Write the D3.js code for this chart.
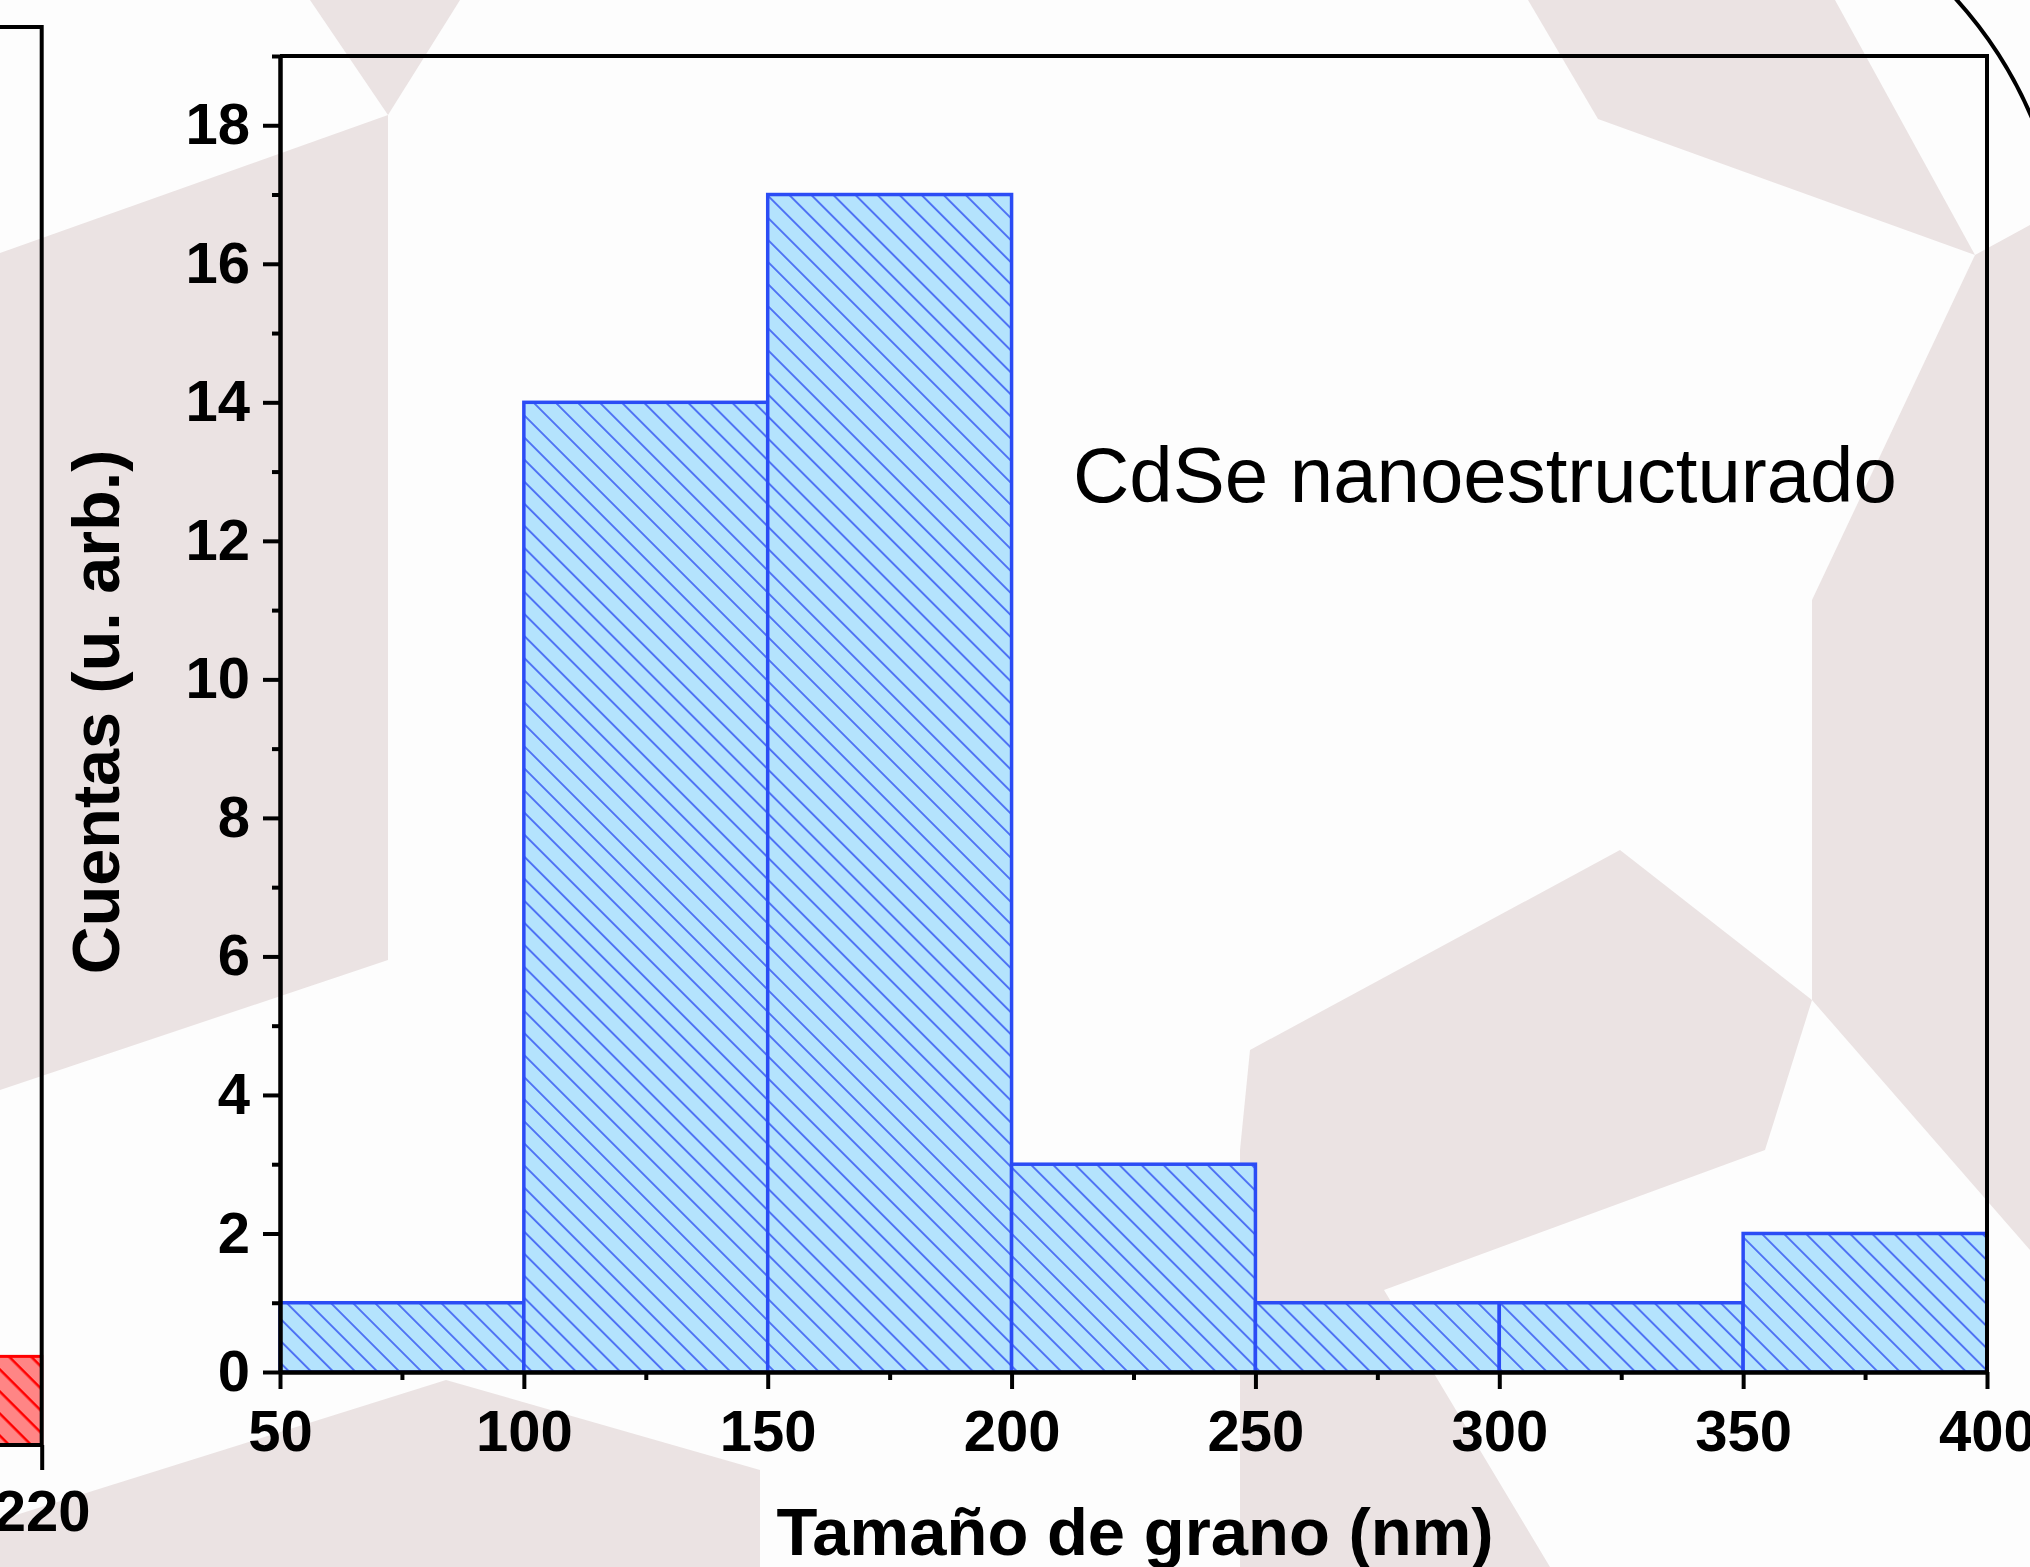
<!DOCTYPE html>
<html>
<head>
<meta charset="utf-8">
<script src="https://cdn.jsdelivr.net/npm/d3@7"></script>
<style>
  html, body { margin: 0; padding: 0; background: #fdfdfd; }
  svg { display: block; }
  text { font-family: "Liberation Sans", Arial, sans-serif; }
</style>
</head>
<body>
<svg id="chart"></svg>
<script>
// histogram bins (nm) and counts
var binStart = [50, 100, 150, 200, 250, 300, 350];
var binEnd = [100, 150, 200, 250, 300, 350, 400];
var counts = [1, 14, 17, 3, 1, 1, 2];

var xTicks = [50, 100, 150, 200, 250, 300, 350, 400];
var xMinor = [75, 125, 175, 225, 275, 325, 375];
var yTicks = [0, 2, 4, 6, 8, 10, 12, 14, 16, 18];
var yMinor = [1, 3, 5, 7, 9, 11, 13, 15, 17, 19];

// the cut-off neighbour panel on the left
var leftStart = [200];
var leftEnd = [220];
var leftCounts = [1];
var leftTicks = [220];

var width = 2030, height = 1567;

var svg = d3.select("#chart")
  .attr("width", width)
  .attr("height", height);

// faint cube watermark behind everything
var bgPolys = [
  [[310,0],[460,0],[388,115]],
  [[0,253],[388,115],[388,960],[0,1090]],
  [[1528,0],[1835,0],[1975,255],[1598,119]],
  [[1975,255],[2030,225],[2030,1250],[1812,1000],[1812,600]],
  [[0,1520],[446,1380],[760,1470],[760,1567],[0,1567]],
  [[1240,1150],[1765,1150],[1384,1290],[1550,1567],[1240,1567]],
  [[1250,1050],[1620,850],[1812,1000],[1765,1150],[1240,1150]]
];
svg.append("g").selectAll("polygon")
  .data(bgPolys)
  .enter()
  .append("polygon")
  .attr("points", function (d) { return d.join(" "); })
  .attr("fill", "#ebe3e3");

var defs = svg.append("defs");

var blue = defs.append("pattern")
  .attr("id", "hatchBlue")
  .attr("patternUnits", "userSpaceOnUse")
  .attr("width", 12)
  .attr("height", 15.6)
  .attr("patternTransform", "rotate(45)");
blue.append("rect").attr("width", 12).attr("height", 15.6).attr("fill", "#b4e3fd");
blue.append("line").attr("x1", 0).attr("x2", 12).attr("y1", 1).attr("y2", 1)
  .attr("stroke", "#2f50f2").attr("stroke-width", 1.5);

var red = defs.append("pattern")
  .attr("id", "hatchRed")
  .attr("patternUnits", "userSpaceOnUse")
  .attr("width", 12)
  .attr("height", 15.6)
  .attr("patternTransform", "rotate(45)");
red.append("rect").attr("width", 12).attr("height", 15.6).attr("fill", "#ff8585");
red.append("line").attr("x1", 0).attr("x2", 12).attr("y1", 1).attr("y2", 1)
  .attr("stroke", "#ff0000").attr("stroke-width", 3);

// main panel
var x = d3.scaleLinear().domain([50, 400]).range([280, 1987]);
var y = d3.scaleLinear().domain([0, 19]).range([1372, 56]);

svg.append("g").selectAll("rect")
  .data(counts)
  .enter()
  .append("rect")
  .attr("x", function (d, i) { return x(binStart[i]); })
  .attr("y", function (d) { return y(d); })
  .attr("width", function (d, i) { return x(binEnd[i]) - x(binStart[i]); })
  .attr("height", function (d) { return y(0) - y(d); })
  .attr("fill", "url(#hatchBlue)")
  .attr("stroke", "#2b4cf5")
  .attr("stroke-width", 3.5);

// frame top / right
svg.append("path")
  .attr("d", "M" + x(50) + "," + y(19) + "H" + x(400) + "V" + y(0))
  .attr("fill", "none")
  .attr("stroke", "#000")
  .attr("stroke-width", 4);

svg.append("g")
  .attr("transform", "translate(0," + y(0) + ")")
  .call(d3.axisBottom(x).tickValues(xTicks).tickSize(17).tickSizeOuter(0).tickPadding(21));
svg.append("g")
  .attr("transform", "translate(0," + y(0) + ")")
  .call(d3.axisBottom(x).tickValues(xMinor).tickSize(8).tickSizeOuter(0).tickFormat(""));

svg.append("g")
  .attr("transform", "translate(" + x(50) + ",0)")
  .call(d3.axisLeft(y).tickValues(yTicks).tickSize(17).tickSizeOuter(0).tickPadding(13));
svg.append("g")
  .attr("transform", "translate(" + x(50) + ",0)")
  .call(d3.axisLeft(y).tickValues(yMinor).tickSize(8).tickSizeOuter(0).tickFormat(""));

svg.selectAll(".domain").attr("stroke", "#000").attr("stroke-width", 4);
svg.selectAll(".tick line").attr("stroke", "#000").attr("stroke-width", 4);
svg.selectAll(".tick text")
  .style("font-family", "'Liberation Sans', Arial, sans-serif")
  .style("font-weight", "bold")
  .style("font-size", "58px")
  .attr("fill", "#000");

svg.append("text")
  .attr("x", 1135)
  .attr("y", 1555)
  .attr("text-anchor", "middle")
  .style("font-weight", "bold")
  .style("font-size", "67px")
  .text("Tamaño de grano (nm)");

svg.append("text")
  .attr("transform", "translate(119,712) rotate(-90)")
  .attr("text-anchor", "middle")
  .style("font-weight", "bold")
  .style("font-size", "66.5px")
  .text("Cuentas (u. arb.)");

svg.append("text")
  .attr("x", 1073)
  .attr("y", 502)
  .style("font-size", "78px")
  .text("CdSe nanoestructurado");

// left neighbour panel, mostly off-screen
var xL = d3.scaleLinear().domain([180, 220]).range([-170, 41.7]);
var yL = d3.scaleLinear().domain([0, 16]).range([1445, 27]);

svg.append("g").selectAll("rect")
  .data(leftCounts)
  .enter()
  .append("rect")
  .attr("x", function (d, i) { return xL(leftStart[i]); })
  .attr("y", function (d) { return yL(d); })
  .attr("width", function (d, i) { return xL(leftEnd[i]) - xL(leftStart[i]); })
  .attr("height", function (d) { return yL(0) - yL(d); })
  .attr("fill", "url(#hatchRed)")
  .attr("stroke", "#ff0000")
  .attr("stroke-width", 3);

svg.append("path")
  .attr("d", "M0," + yL(16) + "H" + xL(220) + "V" + yL(0) + "H0")
  .attr("fill", "none")
  .attr("stroke", "#000")
  .attr("stroke-width", 4);

svg.append("g")
  .attr("transform", "translate(0," + yL(0) + ")")
  .call(d3.axisBottom(xL).tickValues(leftTicks).tickSize(25).tickSizeOuter(0).tickPadding(20))
  .call(function (g) { g.select(".domain").remove(); })
  .call(function (g) {
    g.selectAll("line").attr("stroke", "#000").attr("stroke-width", 4);
    g.selectAll("text")
      .style("font-family", "'Liberation Sans', Arial, sans-serif")
      .style("font-weight", "bold")
      .style("font-size", "58px")
      .attr("fill", "#000");
  });

// black arc in the top right corner
svg.append("path")
  .attr("d", "M1955,-2 A420,420 0 0,1 2036,128")
  .attr("fill", "none")
  .attr("stroke", "#000")
  .attr("stroke-width", 4);
</script>
</body>
</html>
